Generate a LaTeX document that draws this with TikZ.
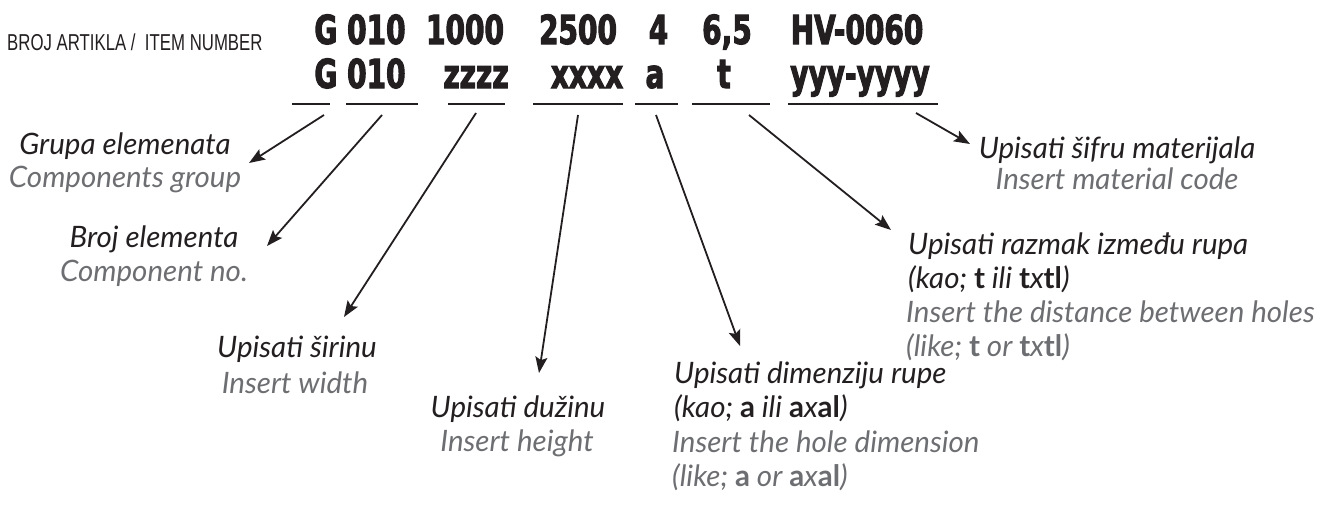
\documentclass[tikz,border=0pt]{standalone}
\usepackage{fontspec}
\setmainfont{Lato}
\newfontfamily\codefont[FakeStretch=0.70,FakeBold=2.5]{DejaVu Sans}
\newfontfamily\hdrfont[FakeStretch=0.73]{Liberation Sans}
\usetikzlibrary{arrows.meta}
\definecolor{ink}{HTML}{231F20}
\definecolor{gry}{HTML}{6D6E71}
\newcommand{\bt}[1]{{\upshape\bfseries #1}}
\tikzset{
  code/.style={inner sep=0pt, anchor=base, text=ink, font=\codefont\bfseries\fontsize{40}{44}\selectfont},
  hdr/.style={inner sep=0pt, anchor=base west, text=ink, font=\hdrfont\fontsize{23}{26}\selectfont},
  lbl/.style={inner sep=0pt, anchor=base, text=ink, font=\itshape\fontsize{29.5}{33}\selectfont},
  eng/.style={lbl, text=gry},
  uline/.style={draw=ink, line width=2.3pt},
  arr/.style={draw=ink, line width=1.8pt, -{Stealth[length=16pt,width=12pt,inset=3pt]}}
}
\begin{document}
\begin{tikzpicture}[x=1pt,y=-1pt]
\useasboundingbox (0,0) rectangle (1320,522);
% header
\node[hdr] (hd) at (7,50) {BROJ ARTIKLA /\ \ ITEM NUMBER};
% row 1
\node[code] (r1a) at (360,44) {G 010};
\node[code] (r1b) at (465,44) {1000};
\node[code] (r1c) at (578,44) {2500};
\node[code] (r1d) at (658.5,44) {4};
\node[code] (r1e) at (727,44) {6,5};
\node[code] (r1f) at (857,44) {HV-0060};
% row 2
\node[code] (r2a) at (360,88) {G 010};
\node[code] (r2b) at (476,88) {zzzz};
\node[code] (r2c) at (587,88) {xxxx};
\node[code] (r2d) at (655,88) {a};
\node[code] (r2e) at (724,88) {t};
\node[code] (r2f) at (860,88) {yyy-yyyy};
% underlines
\coordinate (u1a) at (292,104); \coordinate (u1b) at (330,104);
\coordinate (u2a) at (346,104); \coordinate (u2b) at (418,104);
\coordinate (u3a) at (448,104); \coordinate (u3b) at (505,104);
\coordinate (u4a) at (533,104); \coordinate (u4b) at (623,104);
\coordinate (u5a) at (635,104); \coordinate (u5b) at (678,104);
\coordinate (u6a) at (692,104); \coordinate (u6b) at (770,104);
\coordinate (u7a) at (788,104); \coordinate (u7b) at (938,104);
\foreach \i in {1,...,7} { \draw[uline] (u\i a) -- (u\i b); }
% labels
\node[lbl] (l1) at (125,154) {Grupa elemenata};
\node[eng] (e1) at (125,187) {Components group};
\node[lbl] (l2) at (154,247) {Broj elementa};
\node[eng] (e2) at (154,281) {Component no.};
\node[lbl] (l3) at (297,357) {Upisati širinu};
\node[eng] (e3) at (295,393) {Insert width};
\node[lbl] (l4) at (518,417) {Upisati dužinu};
\node[eng] (e4) at (517,451) {Insert height};
\node[lbl, anchor=base west] (l5) at (674,383) {Upisati dimenziju rupe};
\node[lbl, anchor=base west] (l5b) at (674,417) {(kao; \bt{a} ili \bt{a}x\bt{al})};
\node[eng, anchor=base west] (e5) at (672,452) {Insert the hole dimension};
\node[eng, anchor=base west] (e5b) at (672,486) {(like; \bt{a} or \bt{a}x\bt{al})};
\node[lbl, anchor=base west] (l6) at (908,254) {Upisati razmak između rupa};
\node[lbl, anchor=base west] (l6b) at (908,288) {(kao; \bt{t} ili \bt{t}x\bt{tl})};
\node[eng, anchor=base west] (e6) at (906,322) {Insert the distance between holes};
\node[eng, anchor=base west] (e6b) at (906,356) {(like; \bt{t} or \bt{t}x\bt{tl})};
\node[lbl] (l7) at (1117,158) {Upisati šifru materijala};
\node[eng] (e7) at (1117,189) {Insert material code};
% arrows
\coordinate (s1) at (324,115); \coordinate (t1) at (249,163);
\coordinate (s2) at (382,115); \coordinate (t2) at (267,246);
\coordinate (s3) at (476,113); \coordinate (t3) at (344,317);
\coordinate (s4) at (578,115); \coordinate (t4) at (539,373);
\coordinate (s5) at (656,115); \coordinate (t5) at (740,346);
\coordinate (s6) at (749,115); \coordinate (t6) at (891,230);
\coordinate (s7) at (916,113); \coordinate (t7) at (970,144);
\foreach \i in {1,...,7} { \draw[arr] (s\i) -- (t\i); }
\end{tikzpicture}
\end{document}
